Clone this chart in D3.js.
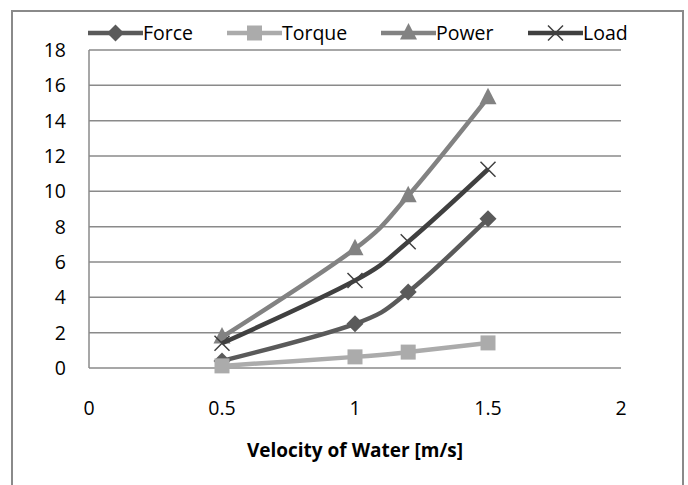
<!DOCTYPE html>
<html>
<head>
<meta charset="utf-8">
<script src="https://cdn.jsdelivr.net/npm/d3@7/dist/d3.min.js"></script>
<style>
  body { margin: 0; background: #fff; }
  text { font-family: "Open Sans", "Noto Sans", sans-serif; fill: #000; }
</style>
</head>
<body>
<div class="canvas"></div>
<script>
// data
const velocity = [0.5, 1, 1.2, 1.5];
const force = [0.4, 2.5, 4.3, 8.45];
const torque = [0.12, 0.63, 0.9, 1.42];
const power = [1.75, 6.75, 9.75, 15.3];
const load = [1.4, 4.95, 7.15, 11.25];

const seriesNames = ['Force', 'Torque', 'Power', 'Load'];
const xTicks = [0, 0.5, 1, 1.5, 2];
const yTicks = [0, 2, 4, 6, 8, 10, 12, 14, 16, 18];
const xTitle = 'Velocity of Water [m/s]';

const dims = { width: 688, height: 485 };
const plot = { left: 89, right: 621, top: 50, bottom: 368 };

const styles = {
  Force: { color: '#5a5a5a', marker: 'diamond' },
  Torque: { color: '#ababab', marker: 'square' },
  Power: { color: '#828282', marker: 'triangle' },
  Load: { color: '#404040', marker: 'cross' }
};

const svg = d3.select('.canvas')
  .append('svg')
  .attr('width', dims.width)
  .attr('height', dims.height);

// outer chart frame (runs off the bottom of the picture)
svg.append('rect')
  .attr('x', 12).attr('y', 11)
  .attr('width', 671).attr('height', 490)
  .attr('fill', 'none')
  .attr('stroke', '#8a8a8a')
  .attr('stroke-width', 2);

const x = d3.scaleLinear().domain([0, 2]).range([plot.left, plot.right]);
const y = d3.scaleLinear().domain([0, 18]).range([plot.bottom, plot.top]);

// gridlines
svg.append('g')
  .selectAll('line')
  .data(yTicks)
  .enter().append('line')
  .attr('x1', plot.left).attr('x2', plot.right)
  .attr('y1', d => y(d)).attr('y2', d => y(d))
  .attr('stroke', '#8a8a8a')
  .attr('stroke-width', 1.5);

// y axis line
svg.append('line')
  .attr('x1', plot.left).attr('x2', plot.left)
  .attr('y1', plot.top).attr('y2', plot.bottom)
  .attr('stroke', '#8a8a8a')
  .attr('stroke-width', 1.5);

// tick labels
svg.append('g')
  .selectAll('text')
  .data(yTicks)
  .enter().append('text')
  .attr('x', 66)
  .attr('y', d => y(d))
  .attr('dy', '0.36em')
  .attr('text-anchor', 'end')
  .style('font-size', '19.5px')
  .text(d => d);

svg.append('g')
  .selectAll('text')
  .data(xTicks)
  .enter().append('text')
  .attr('x', d => x(d))
  .attr('y', 415)
  .attr('text-anchor', 'middle')
  .style('font-size', '19.5px')
  .text(d => d);

svg.append('text')
  .attr('x', (plot.left + plot.right) / 2)
  .attr('y', 457)
  .attr('text-anchor', 'middle')
  .style('font-size', '19px')
  .style('font-weight', 'bold')
  .text(xTitle);

// markers
const drawMarker = (sel, type, color) => {
  if (type === 'diamond') {
    sel.append('path').attr('d', 'M0,-8.5L8.5,0L0,8.5L-8.5,0Z').attr('fill', color);
  } else if (type === 'square') {
    sel.append('rect').attr('x', -7.5).attr('y', -7.5).attr('width', 15).attr('height', 15).attr('fill', color);
  } else if (type === 'triangle') {
    sel.append('path').attr('d', 'M0,-10L8.5,6.5L-8.5,6.5Z').attr('fill', color);
  } else {
    sel.append('path').attr('d', 'M-7.5,-7.5L7.5,7.5M-7.5,7.5L7.5,-7.5')
      .attr('stroke', color).attr('stroke-width', 1.5).attr('fill', 'none');
  }
};

const line = d3.line()
  .x(d => x(d[0]))
  .y(d => y(d[1]))
  .curve(d3.curveCardinal.tension(0));

const allValues = { Force: force, Torque: torque, Power: power, Load: load };

seriesNames.forEach(name => {
  const pts = velocity.map((v, i) => [v, allValues[name][i]]);
  const st = styles[name];
  const g = svg.append('g');
  g.append('path')
    .attr('d', line(pts))
    .attr('fill', 'none')
    .attr('stroke', st.color)
    .attr('stroke-width', 4.5);
  pts.forEach(p => {
    const m = g.append('g').attr('transform', `translate(${x(p[0])}, ${y(p[1])})`);
    drawMarker(m, st.marker, st.color);
  });
});

// legend
const legendStarts = [88, 227, 381, 528];
const legendY = 33;
seriesNames.forEach((name, i) => {
  const st = styles[name];
  const g = svg.append('g').attr('transform', `translate(${legendStarts[i]}, ${legendY})`);
  g.append('line')
    .attr('x1', 0).attr('x2', 55)
    .attr('stroke', st.color)
    .attr('stroke-width', 4.5);
  const m = g.append('g').attr('transform', 'translate(27.5, 0)');
  drawMarker(m, st.marker, st.color);
  g.append('text')
    .attr('x', 55)
    .attr('dy', '0.36em')
    .style('font-size', '19.5px')
    .text(name);
});
</script>
</body>
</html>
